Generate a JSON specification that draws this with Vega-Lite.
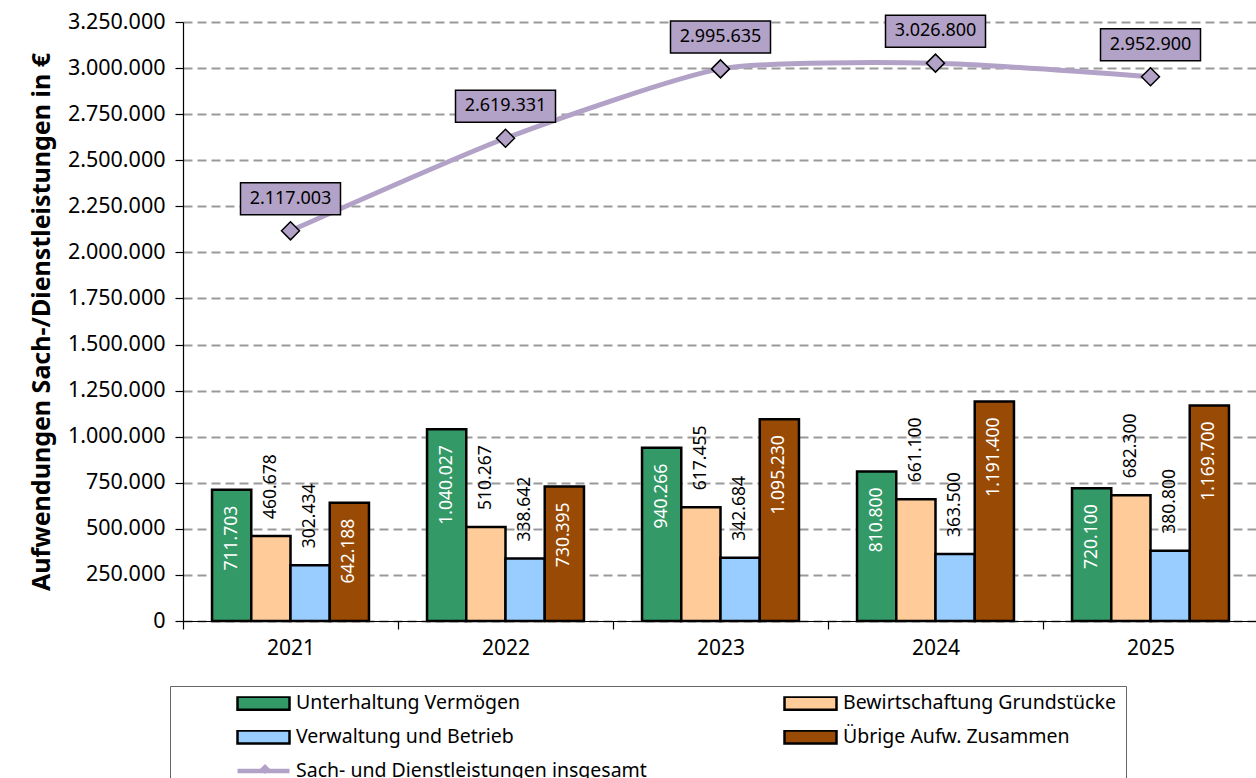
{
  "$schema": "https://vega.github.io/schema/vega-lite/v6.json",
  "autosize": "none",
  "width": 1075,
  "height": 599,
  "padding": {"left": 183, "top": 22, "right": 0, "bottom": 157},
  "background": "white",
  "config": {
    "locale": {"number": {"decimal": ",", "thousands": ".", "grouping": [3], "currency": ["", " €"]}},
    "font": "Noto Sans",
    "view": {"stroke": null},
    "axis": {"labelFont": "Noto Sans", "titleFont": "Noto Sans", "labelColor": "black", "titleColor": "black"},
    "legend": {"labelFont": "Noto Sans"},
    "text": {"font": "Noto Sans"}
  },
  "datasets": {
    "bars": [
      {"year": "2021", "cat": "Unterhaltung Vermögen", "value": 711703},
      {"year": "2021", "cat": "Bewirtschaftung Grundstücke", "value": 460678},
      {"year": "2021", "cat": "Verwaltung und Betrieb", "value": 302434},
      {"year": "2021", "cat": "Übrige Aufw. Zusammen", "value": 642188},
      {"year": "2022", "cat": "Unterhaltung Vermögen", "value": 1040027},
      {"year": "2022", "cat": "Bewirtschaftung Grundstücke", "value": 510267},
      {"year": "2022", "cat": "Verwaltung und Betrieb", "value": 338642},
      {"year": "2022", "cat": "Übrige Aufw. Zusammen", "value": 730395},
      {"year": "2023", "cat": "Unterhaltung Vermögen", "value": 940266},
      {"year": "2023", "cat": "Bewirtschaftung Grundstücke", "value": 617455},
      {"year": "2023", "cat": "Verwaltung und Betrieb", "value": 342684},
      {"year": "2023", "cat": "Übrige Aufw. Zusammen", "value": 1095230},
      {"year": "2024", "cat": "Unterhaltung Vermögen", "value": 810800},
      {"year": "2024", "cat": "Bewirtschaftung Grundstücke", "value": 661100},
      {"year": "2024", "cat": "Verwaltung und Betrieb", "value": 363500},
      {"year": "2024", "cat": "Übrige Aufw. Zusammen", "value": 1191400},
      {"year": "2025", "cat": "Unterhaltung Vermögen", "value": 720100},
      {"year": "2025", "cat": "Bewirtschaftung Grundstücke", "value": 682300},
      {"year": "2025", "cat": "Verwaltung und Betrieb", "value": 380800},
      {"year": "2025", "cat": "Übrige Aufw. Zusammen", "value": 1169700}
    ],
    "totals": [
      {"year": "2021", "total": 2117003},
      {"year": "2022", "total": 2619331},
      {"year": "2023", "total": 2995635},
      {"year": "2024", "total": 3026800},
      {"year": "2025", "total": 2952900}
    ]
  },
  "encoding": {
    "x": {
      "field": "year", "type": "nominal",
      "scale": {"paddingInner": 0, "paddingOuter": 0},
      "axis": {"title": null, "labelAngle": 0, "tickBand": "extent", "labelFontSize": 21, "labelPadding": 8, "tickSize": 8, "domainColor": "black", "tickColor": "black", "domainWidth": 1.2, "tickWidth": 1.2, "grid": false}
    }
  },
  "layer": [
    {
      "data": {"name": "bars"},
      "mark": {"type": "bar", "stroke": "black", "strokeWidth": 2.5},
      "encoding": {
        "xOffset": {"field": "cat", "type": "nominal", "scale": {"domain": ["Unterhaltung Vermögen", "Bewirtschaftung Grundstücke", "Verwaltung und Betrieb", "Übrige Aufw. Zusammen"], "paddingInner": 0, "paddingOuter": 0.74}},
        "y": {
          "field": "value", "type": "quantitative",
          "scale": {"domain": [0, 3250000], "nice": false, "zero": true},
          "axis": {
            "title": "Aufwendungen Sach-/Dienstleistungen in €",
            "titleFontSize": 25, "titleFontWeight": "bold", "titlePadding": 13,
            "values": [0, 250000, 500000, 750000, 1000000, 1250000, 1500000, 1750000, 2000000, 2250000, 2500000, 2750000, 3000000, 3250000],
            "format": ",.0f",
            "labelFontSize": 21.5, "labelPadding": 10, "tickSize": 8,
            "domainColor": "black", "tickColor": "black", "domainWidth": 1.2, "tickWidth": 1.2,
            "grid": true, "gridColor": "#9a9a9a", "gridWidth": 2, "gridDash": [9, 5]
          }
        },
        "fill": {
          "field": "cat", "type": "nominal",
          "scale": {
            "domain": ["Unterhaltung Vermögen", "Bewirtschaftung Grundstücke", "Verwaltung und Betrieb", "Übrige Aufw. Zusammen", "Sach- und Dienstleistungen insgesamt"],
            "range": ["#339966", "#FFCC99", "#99CCFF", "#994A05", "#B3A2C7"]
          },
          "legend": {
            "orient": "none", "legendX": -13, "legendY": 664, "direction": "horizontal",
            "title": null, "columns": 2, "columnPadding": 80, "rowPadding": 14,
            "symbolType": "M-1,-0.25H1V0.25H-1Z", "symbolSize": 2704,
            "symbolStrokeColor": "black", "symbolStrokeWidth": 2.5,
            "symbolOffset": 56, "labelOffset": 5, "clipHeight": 14,
            "labelFontSize": 19.5, "labelColor": "black", "labelLimit": 600,
            "strokeColor": "#666666", "fillColor": "white", "padding": 10,
            "encode": {
              "symbols": {
                "update": {
                  "shape": {"signal": "datum.value === 'Sach- und Dienstleistungen insgesamt' ? 'M-1,-0.09H1V0.09H-1Z' : 'M-1,-0.25H1V0.25H-1Z'"},
                  "stroke": {"signal": "datum.value === 'Sach- und Dienstleistungen insgesamt' ? 'transparent' : 'black'"}
                }
              }
            }
          }
        }
      }
    },
    {
      "data": {"name": "bars"},
      "transform": [{"filter": "datum.cat === 'Unterhaltung Vermögen' || datum.cat === 'Übrige Aufw. Zusammen'"}],
      "mark": {"type": "text", "angle": 270, "align": "right", "baseline": "middle", "dx": -16, "fontSize": 17.5, "color": "white"},
      "encoding": {
        "xOffset": {"field": "cat", "type": "nominal"},
        "y": {"field": "value", "type": "quantitative"},
        "text": {"field": "value", "type": "quantitative", "format": ",.0f"}
      }
    },
    {
      "data": {"name": "bars"},
      "transform": [{"filter": "datum.cat === 'Bewirtschaftung Grundstücke' || datum.cat === 'Verwaltung und Betrieb'"}],
      "mark": {"type": "text", "angle": 270, "align": "left", "baseline": "middle", "dx": 17, "fontSize": 17.5, "color": "black"},
      "encoding": {
        "xOffset": {"field": "cat", "type": "nominal"},
        "y": {"field": "value", "type": "quantitative"},
        "text": {"field": "value", "type": "quantitative", "format": ",.0f"}
      }
    },
    {
      "data": {"name": "totals"},
      "mark": {"type": "line", "interpolate": "cardinal", "tension": 0.4, "stroke": "#B3A2C7", "strokeWidth": 5},
      "encoding": {"y": {"field": "total", "type": "quantitative"}}
    },
    {
      "data": {"name": "totals"},
      "mark": {"type": "point", "size": 324, "filled": true, "fill": "#B3A2C7", "stroke": "black", "strokeWidth": 1.5, "opacity": 1},
      "encoding": {
        "y": {"field": "total", "type": "quantitative"},
        "shape": {
          "datum": "Marker",
          "scale": {"range": ["diamond"]},
          "legend": {
            "orient": "none", "legendX": 76, "legendY": 741, "title": null, "padding": 0,
            "symbolSize": 100, "symbolFillColor": "#B3A2C7", "symbolStrokeColor": "black", "symbolStrokeWidth": 1.5,
            "labelExpr": "''", "labelFontSize": 1, "zindex": 2
          }
        }
      }
    },
    {
      "data": {"name": "totals"},
      "mark": {"type": "point", "shape": "M-1,-0.32H1V0.32H-1Z", "size": 10000, "filled": true, "fill": "#B3A2C7", "stroke": "black", "strokeWidth": 1.5, "opacity": 1, "yOffset": -32},
      "encoding": {"y": {"field": "total", "type": "quantitative"}}
    },
    {
      "data": {"name": "totals"},
      "mark": {"type": "text", "align": "center", "baseline": "middle", "fontSize": 18, "color": "black", "yOffset": -32},
      "encoding": {
        "y": {"field": "total", "type": "quantitative"},
        "text": {"field": "total", "type": "quantitative", "format": ",.0f"}
      }
    }
  ]
}
